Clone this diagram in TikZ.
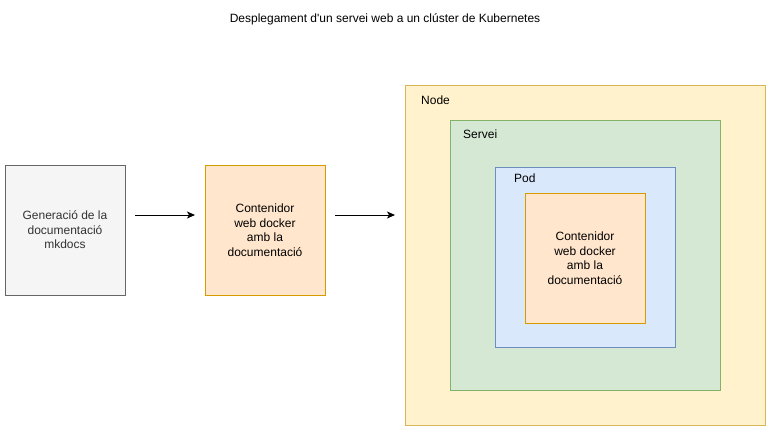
\documentclass[tikz,border=0pt]{standalone}
\usepackage{fontspec}
\setmainfont{Liberation Sans}
\usetikzlibrary{arrows.meta}
\definecolor{grayfill}{HTML}{F5F5F5}
\definecolor{graystroke}{HTML}{666666}
\definecolor{graytext}{HTML}{333333}
\definecolor{orfill}{HTML}{FFE6CC}
\definecolor{orstroke}{HTML}{D79B00}
\definecolor{yefill}{HTML}{FFF2CC}
\definecolor{yestroke}{HTML}{D6B656}
\definecolor{grfill}{HTML}{D5E8D4}
\definecolor{grstroke}{HTML}{82B366}
\definecolor{blfill}{HTML}{DAE8FC}
\definecolor{blstroke}{HTML}{6C8EBF}
\tikzset{
  box/.style={draw, line width=1pt, inner sep=0pt, align=center, font=\fontsize{12}{14.5}\selectfont, text=black},
  lbl/.style={inner sep=0pt, anchor=west, font=\fontsize{12}{14}\selectfont, text=black},
  arr/.style={line width=1pt, -{Stealth[length=8pt,width=7pt,inset=2pt]}}
}
\begin{document}
\begin{tikzpicture}[x=1pt,y=-1pt]
\useasboundingbox (0,0) rectangle (771,431);
\node[inner sep=0pt, font=\fontsize{12}{14}\selectfont] (title) at (385,19) {Desplegament d\textquotesingle un servei web a un clúster de Kubernetes};
\node[box, fill=grayfill, draw=graystroke, text=graytext, minimum width=120pt, minimum height=130pt] (gen) at (65,230) {Generació de la\\documentació\\mkdocs};
\node[box, fill=orfill, draw=orstroke, minimum width=120pt, minimum height=130pt] (cont1) at (265,230) {Contenidor\\web docker\\amb la\\documentació};
\node[box, fill=yefill, draw=yestroke, minimum width=360pt, minimum height=340pt] (node) at (585,255) {};
\node[box, fill=grfill, draw=grstroke, minimum width=270pt, minimum height=270pt] (servei) at (585,255) {};
\node[box, fill=blfill, draw=blstroke, minimum width=180pt, minimum height=180pt] (pod) at (585,257.5) {};
\node[box, fill=orfill, draw=orstroke, minimum width=120pt, minimum height=130pt] (cont2) at (585,258) {Contenidor\\web docker\\amb la\\documentació};
\node[lbl] (nodelbl) at (421,100) {Node};
\node[lbl] (serveilbl) at (463,134) {Servei};
\node[lbl] (podlbl) at (514,178) {Pod};
\coordinate (a1s) at (135,215);
\coordinate (a1e) at (195,215);
\coordinate (a2s) at (335,215);
\coordinate (a2e) at (395,215);
\draw[arr] (a1s) -- (a1e);
\draw[arr] (a2s) -- (a2e);
\end{tikzpicture}
\end{document}
